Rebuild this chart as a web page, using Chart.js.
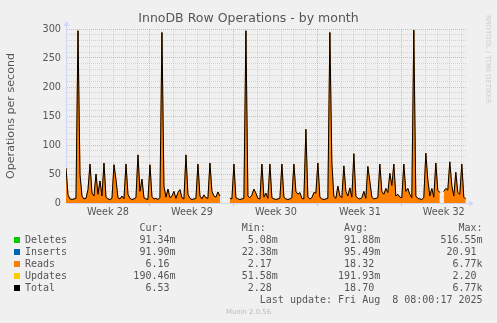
<!DOCTYPE html>
<html>
<head>
<meta charset="utf-8">
<title>InnoDB Row Operations - by month</title>
<script src="https://cdn.jsdelivr.net/npm/chart.js@4.4.1/dist/chart.umd.min.js"></script>
<style>
  html, body { margin: 0; padding: 0; background: #f0f0f0; }
  #wrap { position: relative; width: 497px; height: 323px; overflow: hidden; }
  #graph { position: absolute; left: 0; top: 0; }
  .txt { position: absolute; color: #555; font-family: "DejaVu Sans", sans-serif; white-space: pre; }
  #title { left: 0; width: 497px; top: 10px; text-align: center; font-size: 12.5px; line-height: 15px; }
  #legend { left: 25px; top: 222px; font-family: "DejaVu Sans Mono", monospace; font-size: 10px; line-height: 12px; }
  .box { position: absolute; left: 14px; width: 6px; height: 6px; }
  #munin { left: 0; width: 497px; top: 308px; text-align: center; font-size: 6.9px; line-height: 8px; color: #bbb; }
  #rrd { left: 484px; top: 15px; font-size: 6.9px; line-height: 8px; color: #ccc; writing-mode: vertical-rl; }
</style>
</head>
<body>
<div id="wrap">
  <canvas id="graph" width="497" height="323"></canvas>
  <div class="txt" id="title">InnoDB Row Operations - by month</div>
  <div class="txt" id="rrd">RRDTOOL / TOBI OETIKER</div>
  <div class="txt" id="legend"></div>
  <div class="txt" id="munin">Munin 2.0.56</div>
</div>
<script>
// one sample every 4 hours
const sampleHours = 4;

const weekLabels = ['Week 28', 'Week 29', 'Week 30', 'Week 31', 'Week 32'];

const reads = [
  60, 14, 7, 6, 7, 8, 297, 49, 12, 7,
  8, 23, 67, 17, 12, 50, 15, 38, 12, 69,
  10, 7, 6, 8, 66, 40, 9, 7, 12, 7,
  67, 15, 8, 6, 7, 9, 83, 20, 41, 9,
  7, 6, 66, 11, 7, 8, 6, 9, 294, 29,
  10, 24, 9, 12, 20, 8, 18, 23, 9, 7,
  83, 15, 8, 6, 7, 8, 67, 12, 7, 14,
  9, 8, 69, 20, 12, 10, 19, 12, null, null,
  null, null, 8, 7, 67, 9, 7, 6, 7, 8,
  297, 12, 9, 14, 24, 17, 8, 7, 67, 10,
  17, 8, 67, 9, 7, 6, 7, 8, 67, 10,
  7, 6, 7, 9, 67, 20, 15, 18, 8, 7,
  127, 10, 7, 9, 18, 17, 69, 10, 7, 6,
  7, 8, 294, 69, 11, 8, 29, 12, 9, 64,
  20, 12, 26, 10, 85, 12, 8, 7, 9, 20,
  8, 63, 37, 10, 7, 8, 9, 67, 20, 15,
  25, 18, 51, 30, 67, 12, 15, 10, 9, 67,
  20, 25, 15, 9, 298, 12, 8, 7, 6, 9,
  86, 40, 12, 25, 10, 69, 22, 18, null, 20,
  25, 22, 71, 30, 12, 53, 18, 15, 67, 10,
  6.16
];

const total = [
  60, 14, 7, 6, 7, 8, 297, 49, 12, 7,
  8, 23, 67, 17, 12, 50, 15, 38, 12, 69,
  10, 7, 6, 8, 66, 40, 9, 7, 12, 7,
  67, 15, 8, 6, 7, 9, 83, 20, 41, 9,
  7, 6, 66, 11, 7, 8, 6, 9, 294, 29,
  10, 24, 9, 12, 20, 8, 18, 23, 9, 7,
  83, 15, 8, 6, 7, 8, 67, 12, 7, 14,
  9, 8, 69, 20, 12, 10, 19, 12, null, null,
  null, null, 8, 7, 67, 9, 7, 6, 7, 8,
  297, 12, 9, 14, 24, 17, 8, 7, 67, 10,
  17, 8, 67, 9, 7, 6, 7, 8, 67, 10,
  7, 6, 7, 9, 67, 20, 15, 18, 8, 7,
  127, 10, 7, 9, 18, 17, 69, 10, 7, 6,
  7, 8, 294, 69, 11, 8, 29, 12, 9, 64,
  20, 12, 26, 10, 85, 12, 8, 7, 9, 20,
  8, 63, 37, 10, 7, 8, 9, 67, 20, 15,
  25, 18, 51, 30, 67, 12, 15, 10, 9, 67,
  20, 25, 15, 9, 298, 12, 8, 7, 6, 9,
  86, 40, 12, 25, 10, 69, 22, 18, null, 20,
  25, 22, 71, 30, 12, 53, 18, 15, 67, 10,
  6.53
];

// legend table
const seriesNames = ['Deletes', 'Inserts', 'Reads', 'Updates', 'Total'];
const seriesColors = ['#00cc00', '#0066b3', '#ff8000', '#ffcc00', '#000000'];
const curValues = ['91.34m', '91.90m', '6.16', '190.46m', '6.53'];
const minValues = ['5.08m', '22.38m', '2.17', '51.58m', '2.28'];
const avgValues = ['91.88m', '95.49m', '18.32', '191.93m', '18.70'];
const maxValues = ['516.55m', '20.91', '6.77k', '2.20', '6.77k'];
const lastUpdate = 'Last update: Fri Aug  8 08:00:17 2025';

const axisColor = '#cfd6f8';
const minorGrid = 'rgba(150,150,150,0.3)';
const majorGrid = 'rgba(222,80,80,0.38)';
const textColor = '#555';

function field(v) {
  const s = /[a-zA-Z]$/.test(v) ? v : v + ' ';
  return s.padStart(7);
}

const gap = ' '.repeat(10);
let lines = [' '.repeat(19) + 'Cur:' + ' '.repeat(13) + 'Min:' + ' '.repeat(13) + 'Avg:' + ' '.repeat(15) + 'Max:'];
seriesNames.forEach((name, i) => {
  lines.push(name.padEnd(18) + field(curValues[i]) + gap + field(minValues[i]) + gap +
             field(avgValues[i]) + gap + field(maxValues[i]));
});
lines.push(' '.repeat(39) + lastUpdate);
document.getElementById('legend').textContent = lines.join('\n');

const wrap = document.getElementById('wrap');
seriesColors.forEach((c, i) => {
  const b = document.createElement('div');
  b.className = 'box';
  b.style.top = (237 + i * 12) + 'px';
  b.style.background = c;
  wrap.appendChild(b);
});

const toPoints = arr => arr.map((v, i) => ({ x: i * sampleHours / 24, y: v }));

// day grid plus one label slot in the middle of each week
const xTicks = [];
for (let d = 0; d <= 33; d++) xTicks.push(d);
weekLabels.forEach((_, i) => xTicks.push(3.5 + i * 7));
xTicks.sort((a, b) => a - b);

const axisArrows = {
  id: 'axisArrows',
  afterDraw(chart) {
    const { ctx, chartArea: a } = chart;
    const x0 = Math.round(a.left) + 0.5;
    const y0 = Math.round(a.bottom) + 0.5;
    ctx.save();
    ctx.strokeStyle = axisColor;
    ctx.fillStyle = axisColor;
    ctx.lineWidth = 1;
    ctx.beginPath();
    ctx.moveTo(x0, a.top);
    ctx.lineTo(x0, a.top - 4);
    ctx.moveTo(a.right, y0);
    ctx.lineTo(a.right + 3, y0);
    ctx.stroke();
    ctx.beginPath();
    ctx.moveTo(x0, a.top - 8);
    ctx.lineTo(x0 - 3, a.top - 3);
    ctx.lineTo(x0 + 3, a.top - 3);
    ctx.fill();
    ctx.beginPath();
    ctx.moveTo(a.right + 8, y0);
    ctx.lineTo(a.right + 3, y0 - 3);
    ctx.lineTo(a.right + 3, y0 + 3);
    ctx.fill();
    ctx.restore();
  }
};

new Chart(document.getElementById('graph'), {
  type: 'line',
  data: {
    datasets: [
      {
        label: 'Total',
        data: toPoints(total),
        borderColor: '#000000',
        borderWidth: 1,
        fill: false,
        order: 0
      },
      {
        label: 'Reads',
        data: toPoints(reads),
        borderColor: '#ff8000',
        backgroundColor: '#ff8000',
        borderWidth: 1,
        fill: 'origin',
        order: 1
      }
    ]
  },
  options: {
    responsive: false,
    animation: false,
    events: [],
    layout: { padding: { left: 0, right: 31, top: 29, bottom: 0 } },
    elements: { point: { radius: 0 }, line: { tension: 0 } },
    spanGaps: false,
    plugins: {
      legend: { display: false },
      tooltip: { enabled: false },
      title: { display: false }
    },
    scales: {
      x: {
        type: 'linear',
        min: 0,
        max: 33.35,
        afterBuildTicks: scale => { scale.ticks = xTicks.map(v => ({ value: v })); },
        afterFit: scale => { scale.height = 120; },
        border: { display: true, color: axisColor, width: 1, dash: [1, 1] },
        grid: {
          lineWidth: 1,
          drawTicks: true,
          tickLength: 3,
          color: ctx => {
            const v = ctx.tick ? ctx.tick.value : 0;
            if (v === 0) return 'rgba(0,0,0,0)';
            if (v % 7 === 0) return majorGrid;
            if (Number.isInteger(v)) return minorGrid;
            return 'rgba(0,0,0,0)';
          },
          tickColor: ctx => {
            const v = ctx.tick ? ctx.tick.value : 0;
            return (v > 0 && v % 7 === 0) ? majorGrid : 'rgba(0,0,0,0)';
          }
        },
        ticks: {
          autoSkip: false,
          maxRotation: 0,
          padding: 1,
          color: textColor,
          font: { family: 'DejaVu Sans', size: 9.7 },
          callback: v => {
            const w = (v - 3.5) / 7;
            return Number.isInteger(w) ? weekLabels[w] : '';
          }
        }
      },
      y: {
        min: 0,
        max: 300,
        afterFit: scale => { scale.width = 66; },
        border: { display: true, color: axisColor, width: 1, dash: [1, 1] },
        grid: {
          lineWidth: 1,
          drawTicks: false,
          color: ctx => {
            const v = ctx.tick ? ctx.tick.value : 0;
            if (v === 0) return 'rgba(0,0,0,0)';
            return v % 50 === 0 ? majorGrid : minorGrid;
          }
        },
        ticks: {
          stepSize: 10,
          autoSkip: false,
          padding: 5,
          color: textColor,
          font: { family: 'DejaVu Sans', size: 9.7 },
          callback: v => (v % 50 === 0 ? String(v) : '')
        },
        title: {
          display: true,
          text: 'Operations per second',
          color: textColor,
          font: { family: 'DejaVu Sans', size: 11.1 },
          padding: { top: 4, bottom: 0 }
        }
      }
    }
  },
  plugins: [axisArrows]
});
</script>
</body>
</html>
